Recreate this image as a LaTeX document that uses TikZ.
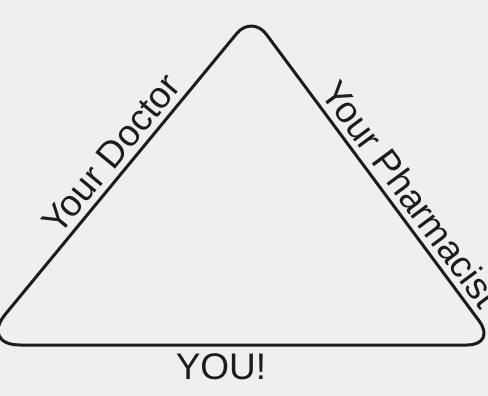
\documentclass[tikz,border=0pt]{standalone}
\usepackage{fontspec}
\setmainfont{Liberation Sans}
\definecolor{paper}{HTML}{EFEFED}
\definecolor{ink}{HTML}{1C1C1C}
\begin{document}
\begin{tikzpicture}[x=1pt,y=-1pt,
  edge/.style={draw=ink,line width=3pt,line join=round},
  lbl/.style={text=ink,font=\fontsize{37}{40}\selectfont,inner sep=0pt},
  side/.style={lbl,sloped,above=7pt}]
\fill[paper] (0,0) rectangle (488,396);
\useasboundingbox (0,0) rectangle (488,396);
\clip (0,0) rectangle (488,396);
\coordinate (L) at (-20,345);
\coordinate (T) at (252,15);
\coordinate (R) at (497,345);
\coordinate (B) at (238,345);
% the three sides
\draw[edge] (B) [rounded corners=40pt] -- (L) [rounded corners=24pt] -- (T) [rounded corners=30pt] -- (R) -- cycle;
% labels
\path (L) -- node[side,pos=0.54] (doctor) {Your Doctor} (T);
\path (T) -- node[side,pos=0.58] (pharm) {Your Pharmacist} (R);
\node[lbl] (you) at (221,367) {YOU!};
\end{tikzpicture}
\end{document}
